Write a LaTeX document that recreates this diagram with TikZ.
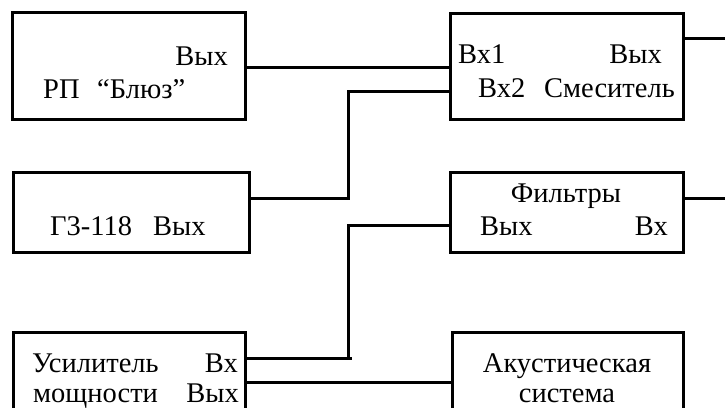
\documentclass[tikz,border=0pt]{standalone}
\usepackage{fontspec}
\setmainfont{Liberation Serif}
\begin{document}
\begin{tikzpicture}[x=1pt,y=-1pt,
  box/.style={draw,line width=3pt,rectangle,inner sep=0pt,outer sep=0pt},
  wire/.style={line width=3pt},
  lbl/.style={inner sep=0pt,font=\fontsize{28.5}{32}\selectfont}]
\useasboundingbox (0,0) rectangle (725,407);
\clip (0,0) rectangle (725,407);
% boxes
\node[box,minimum width=233pt,minimum height=107pt] (rp) at (128.5,65.5) {};
\node[box,minimum width=233pt,minimum height=106pt] (mix) at (566.5,66) {};
\node[box,minimum width=236pt,minimum height=80pt] (gen) at (131,212) {};
\node[box,minimum width=233pt,minimum height=80pt] (filt) at (566.5,212) {};
\node[box,minimum width=232pt,minimum height=92pt] (amp) at (129,378) {};
\node[box,minimum width=231pt,minimum height=92pt] (ac) at (567.5,378) {};
% labels
\node[lbl,anchor=base east] (t1) at (228,65) {Вых};
\node[lbl,anchor=base west] (t2a) at (43,98) {РП};
\node[lbl,anchor=base west] (t2b) at (97,98) {“Блюз”};
\node[lbl,anchor=base west] (t3) at (458,63) {Вх1};
\node[lbl,anchor=base east] (t4) at (662,63) {Вых};
\node[lbl,anchor=base west] (t5) at (478,97) {Вх2};
\node[lbl,anchor=base east] (t6) at (675,97) {Смеситель};
\node[lbl,anchor=base west] (t7a) at (50,235) {Г3-118};
\node[lbl,anchor=base west] (t7b) at (153,235) {Вых};
\node[lbl,anchor=base] (t8) at (566,202) {Фильтры};
\node[lbl,anchor=base west] (t9) at (480,235) {Вых};
\node[lbl,anchor=base east] (t10) at (668,235) {Вх};
\node[lbl,anchor=base west] (t11) at (32,372) {Усилитель};
\node[lbl,anchor=base east] (t12) at (238,372) {Вх};
\node[lbl,anchor=base west] (t13) at (33,402) {мощности};
\node[lbl,anchor=base east] (t14) at (239,402) {Вых};
\node[lbl,anchor=base] (t15) at (567,372) {Акустическая};
\node[lbl,anchor=base] (t16) at (567,402) {система};
% port coordinates
\coordinate (y1) at (0,67);
\coordinate (y2) at (348,91);
\coordinate (y3) at (348,198);
\coordinate (o1) at (725,38);
\coordinate (o2) at (725,198);
\coordinate (y4) at (348,225);
\coordinate (y5) at (352,358);
\coordinate (y6) at (0,382);
% connectors
\draw[wire] (rp.east |- y1) -- (mix.west |- y1);
\draw[wire] (mix.west |- y2) -- (y2) -- (y3) -- (gen.east |- y3);
\draw[wire] (mix.east |- o1) -- (o1);
\draw[wire] (filt.east |- o2) -- (o2);
\draw[wire] (filt.west |- y4) -- (y4) -- (y4 |- y5);
\draw[wire] (amp.east |- y5) -- (y5);
\draw[wire] (amp.east |- y6) -- (ac.west |- y6);
\end{tikzpicture}
\end{document}
